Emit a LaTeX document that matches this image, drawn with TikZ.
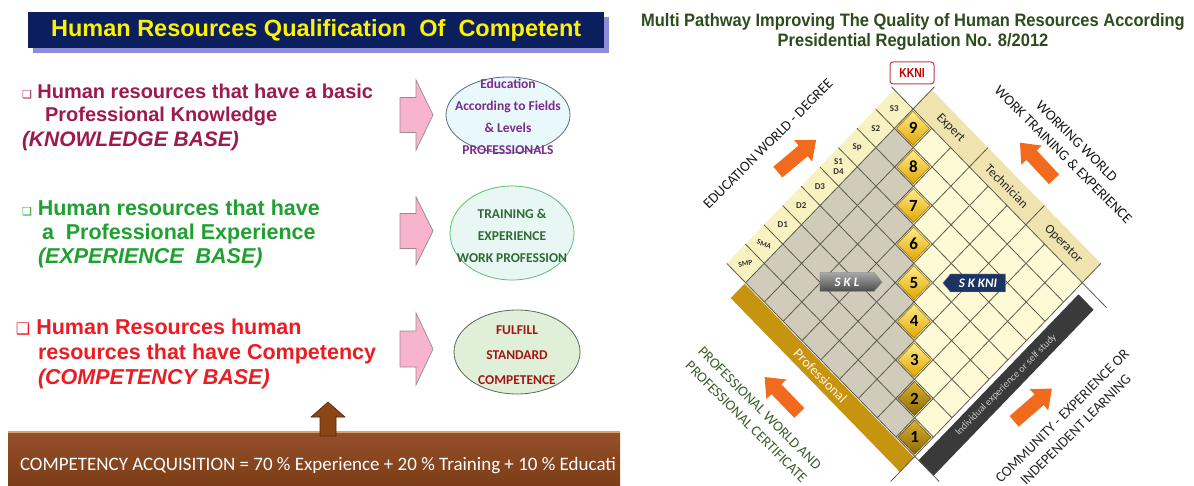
\documentclass[tikz,border=0pt]{standalone}
\usepackage{fontspec}
\usepackage{graphicx}
\setmainfont{Liberation Sans}
\newfontfamily\calfont{Carlito}
\newfontfamily\djfont{DejaVu Sans}
\usetikzlibrary{shapes.geometric,shapes.symbols,decorations.pathmorphing,calc}
\definecolor{navyT}{HTML}{0B1F5E}
\definecolor{shadowT}{HTML}{8C8CD8}
\definecolor{maroonT}{HTML}{9C1A4E}
\definecolor{greenT}{HTML}{1FA030}
\definecolor{redT}{HTML}{EC1C24}
\definecolor{pinkF}{HTML}{F8B4CC}
\definecolor{pinkD}{HTML}{9A8A90}
\definecolor{eAfill}{HTML}{E9F8FB}
\definecolor{eAdraw}{HTML}{5A6A7A}
\definecolor{eBfill}{HTML}{E8F7F3}
\definecolor{eBdraw}{HTML}{5DBF6A}
\definecolor{eCfill}{HTML}{DFEFD8}
\definecolor{eCdraw}{HTML}{5A6A5A}
\definecolor{eAtext}{HTML}{7A2C8E}
\definecolor{eBtext}{HTML}{2F6A33}
\definecolor{eCtext}{HTML}{A31616}
\definecolor{barTop}{HTML}{94502A}
\definecolor{barBot}{HTML}{7A3C16}
\definecolor{barLine}{HTML}{D6A46C}
\definecolor{upArr}{HTML}{8B4516}
\definecolor{rtitle}{HTML}{2E4B1C}
\definecolor{kkniD}{HTML}{C23A4C}
\definecolor{kkniT}{HTML}{B80000}
\definecolor{eduband}{HTML}{F8F2C0}
\definecolor{workband}{HTML}{EFE4B0}
\definecolor{profband}{HTML}{C6940E}
\definecolor{darkband}{HTML}{3A3A3A}
\definecolor{grayC}{HTML}{D1CBBC}
\definecolor{creamC}{HTML}{FFFAD6}
\definecolor{gridL}{HTML}{5C5A4C}
\definecolor{goldTop}{HTML}{FFEB8A}
\definecolor{goldBot}{HTML}{E0A600}
\definecolor{goldTopB}{HTML}{D9B030}
\definecolor{goldBotB}{HTML}{8C6A0A}
\definecolor{orangeA}{HTML}{F26A1E}
\definecolor{sklTop}{HTML}{A8A8A8}
\definecolor{sklBot}{HTML}{4C4C4C}
\definecolor{skkniC}{HTML}{1C3462}
\definecolor{profText}{HTML}{3B5E2B}
\newlength\wA
\newlength\wB
\newcommand\fA{\bfseries\fontsize{20}{24}\selectfont}
\newcommand\fAi{\bfseries\itshape\fontsize{21}{24}\selectfont}
\newcommand\fB{\bfseries\fontsize{21.5}{24}\selectfont}
\newcommand\bulS{{\djfont\fontsize{11}{12}\selectfont ❑}}
\newcommand\bulL{{\djfont\bfseries\fontsize{16}{18}\selectfont ❑}}
\newcommand\wavyunder[3]{\settowidth\wA{#1}\settowidth\wB{#2}\draw[wavy] ($(#3.base west)+(\wA,-3.5pt)$) -- ++(\wB,0pt);}
% block arrow: name, cx, cy, angle, length, head width, shaft width, head length, style
\newcommand\blockarrow[9]{\begin{scope}[shift={(#2,#3)}, rotate=#4]\coordinate (#1) at (0,0);
 \path[#9] (-#5/2,-#7/2) -- (#5/2-#8,-#7/2) -- (#5/2-#8,-#6/2) -- (#5/2,0) -- (#5/2-#8,#6/2) -- (#5/2-#8,#7/2) -- (-#5/2,#7/2) -- cycle;\end{scope}}
\begin{document}
\begin{tikzpicture}[x=1pt,y=-1pt,
 txt/.style={anchor=base west, inner sep=0pt, outer sep=0pt},
 parrow/.style={draw=pinkD, fill=pinkF, line width=0.7pt, line join=miter},
 oarrow/.style={fill=orangeA},
 ell/.style={ellipse, line width=0.8pt, inner sep=0pt},
 etext/.style={align=center, font=\calfont\bfseries\fontsize{13.5}{22}\selectfont, inner sep=0pt},
 wavy/.style={red, line width=0.5pt, decorate, decoration={snake, amplitude=0.8pt, segment length=3pt}},
 gl/.style={draw=gridL, line width=0.8pt},
 side/.style={align=center, font=\calfont\fontsize{14.5}{19}\selectfont, inner sep=0pt},
 edul/.style={font=\calfont\bfseries\fontsize{9}{11}\selectfont, text=black!80, inner sep=0pt, align=center},
 workl/.style={font=\calfont\fontsize{13}{14}\selectfont, text=black!85, rotate=-45, inner sep=0pt},
 numl/.style={font=\calfont\bfseries\fontsize{17}{18}\selectfont, inner sep=0pt},
 goldcell/.style={top color=goldTop, bottom color=goldBot, draw=goldBot!70!black, line width=0.5pt},
 goldcellB/.style={top color=goldTopB, bottom color=goldBotB, draw=goldBotB!70!black, line width=0.5pt},
]
\useasboundingbox (0,0) rectangle (1194,486);
\fill[white] (0,0) rectangle (1194,486);

% ---------- left panel ----------
\fill[shadowT] (33,17) rectangle (609,53);
\node[fill=navyT, minimum width=576pt, minimum height=36pt, anchor=north west, inner sep=0pt] (tbar) at (28,12) {};
\node[text=yellow, font=\bfseries\fontsize{23.5}{28}\selectfont, inner sep=0pt] (ttext) at (tbar.center) {Human Resources Qualification\ \ Of\ \ Competent};

\node[txt, text=maroonT, font=\fA] (k1) at (22,99) {\bulS\ Human resources that have a basic};
\node[txt, text=maroonT, font=\fA] (k2) at (45,122) {Professional Knowledge};
\node[txt, text=maroonT, font=\fAi] (k3) at (22,147) {(KNOWLEDGE BASE)};
\wavyunder{\fA\bulS\ Human }{\fA resources}{k1}
\wavyunder{\fA\bulS\ Human resources that }{\fA have}{k1}
\wavyunder{\fA\bulS\ Human resources that have a }{\fA basic}{k1}

\node[txt, text=greenT, font=\fB] (x1) at (22,215.5) {\bulS\ Human resources that have};
\node[txt, text=greenT, font=\fB] (x2) at (42,239.5) {a\ \ Professional Experience};
\node[txt, text=greenT, font=\fB\itshape] (x3) at (38,263.5) {(EXPERIENCE\ \ BASE)};
\wavyunder{\fB\bulS\ }{\fB Human}{x1}

\node[txt, text=redT, font=\fB] (c1) at (16,334.5) {\bulL\ Human Resources human};
\node[txt, text=redT, font=\fB] (c2) at (38,359.5) {resources that have Competency};
\node[txt, text=redT, font=\fB\itshape] (c3) at (38,384.5) {(COMPETENCY BASE)};

\blockarrow{pa1}{416.5}{115}{0}{33}{70}{35}{17}{parrow}
\blockarrow{pa2}{416.5}{231}{0}{33}{68}{35}{17}{parrow}
\blockarrow{pa3}{416.5}{349}{0}{33}{72}{36}{17}{parrow}

\node[ell, draw=eAdraw, fill=eAfill, minimum width=124pt, minimum height=76pt] (e1) at (508,115) {};
\node[etext, text=eAtext] (e1t) at (508,117) {Education\\According to Fields\\\& Levels\\PROFESSIONALS};
\node[ell, draw=eBdraw, fill=eBfill, minimum width=124pt, minimum height=94pt] (e2) at (512,233) {};
\node[etext, text=eBtext] (e2t) at (512,236) {TRAINING \&\\EXPERIENCE\\WORK PROFESSION};
\node[ell, draw=eCdraw, fill=eCfill, minimum width=126pt, minimum height=84pt] (e3) at (517,352) {};
\node[etext, text=eCtext, font=\calfont\bfseries\fontsize{13.5}{25}\selectfont] (e3t) at (517,355) {FULFILL\\STANDARD\\COMPETENCE};

\begin{scope}
\clip (8,432) rectangle (620,486);
\node[anchor=north west, minimum width=612pt, minimum height=56pt, inner sep=0pt, top color=barTop, bottom color=barBot] (bar) at (8,432) {};
\node[txt, text=white, font=\calfont\fontsize{19}{22}\selectfont] (acq) at (20,470) {COMPETENCY ACQUISITION = 70 \% Experience + 20 \% Training + 10 \% Educati};
\end{scope}
\draw[barLine, line width=1.5pt] (bar.north west) -- (bar.north east);
\blockarrow{up}{328}{419}{90}{34}{34}{16}{15}{fill=upArr, draw=upArr!60!black, line width=0.6pt}

% ---------- right panel ----------
\node[text=rtitle, inner sep=0pt, font=\bfseries\fontsize{18}{20}\selectfont] (rt1) at (913,22) {\scalebox{0.915}[1]{Multi Pathway Improving The Quality of Human Resources According}};
\node[text=rtitle, inner sep=0pt, font=\bfseries\fontsize{18}{20}\selectfont] (rt2) at (913,42) {\scalebox{0.915}[1]{Presidential Regulation No. 8/2012}};

\node[draw=kkniD, fill=white, rounded corners=3pt, line width=1pt, minimum width=44pt, minimum height=22pt, inner sep=0pt, text=kkniT, font=\bfseries\fontsize{13}{14}\selectfont] (kkni) at (912,73) {\scalebox{0.8}[1]{KKNI}};

\begin{scope}[shift={(913pt,-109pt)}, x={(-18.6pt,-19.3pt)}, y={(18.8pt,-19.3pt)}]
 \fill[eduband] (0,0) -- (9,0) -- (9,-1) -- (0,-1) -- cycle;
 \fill[workband] (0,0) -- (0,9) -- (-1,9) -- (-1,0) -- cycle;
 \fill[profband] (9.05,0) -- (9.05,9) -- (9.8,9) -- (9.8,0) -- cycle;
 \fill[darkband] (0.4,9.2) -- (9,9.2) -- (9,10) -- (0.4,10) -- cycle;
 \fill[grayC] (0,0) -- (9,0) -- (9,9) -- cycle;
 \fill[creamC] (0,0) -- (0,9) -- (9,9) -- cycle;
 \foreach \k in {1,...,8} \draw[gl] (\k,-1) -- (\k,9);
 \draw[gl] (0,-1.15) -- (0,10.3);
 \draw[gl] (9,-1) -- (9,10.3);
 \foreach \k in {1,2,4,5,7,8} \draw[gl] (0,\k) -- (9,\k);
 \draw[gl] (-1.15,0) -- (9,0);
 \draw[gl] (-1,3) -- (9,3);
 \draw[gl] (-1,6) -- (9,6);
 \draw[gl] (-1,9) -- (10.3,9);
 \foreach \i in {0,...,6} {
   \pgfmathtruncatemacro\n{9-\i}
   \draw[goldcell] (\i+0.06,\i+0.06) -- (\i+0.94,\i+0.06) -- (\i+0.94,\i+0.94) -- (\i+0.06,\i+0.94) -- cycle;
   \node[numl] (n\n) at (\i+0.5,\i+0.5) {\n};
 }
 \foreach \i in {7,8} {
   \pgfmathtruncatemacro\n{9-\i}
   \draw[goldcellB] (\i+0.06,\i+0.06) -- (\i+0.94,\i+0.06) -- (\i+0.94,\i+0.94) -- (\i+0.06,\i+0.94) -- cycle;
   \node[numl] (n\n) at (\i+0.5,\i+0.5) {\n};
 }
 \node[edul] (lS3) at (0.5,-0.5) {S3};
 \node[edul] (lS2) at (1.5,-0.5) {S2};
 \node[edul] (lSp) at (2.5,-0.5) {Sp};
 \node[edul, font=\calfont\bfseries\fontsize{9}{10}\selectfont] (lS1) at (3.5,-0.5) {S1\\D4};
 \node[edul] (lD3) at (4.5,-0.5) {D3};
 \node[edul] (lD2) at (5.5,-0.5) {D2};
 \node[edul] (lD1) at (6.5,-0.5) {D1};
 \node[edul, font=\calfont\bfseries\fontsize{7.5}{9}\selectfont, rotate=-20] (lSMA) at (7.5,-0.5) {SMA};
 \node[edul, font=\calfont\bfseries\fontsize{7.5}{9}\selectfont, rotate=10] (lSMP) at (8.5,-0.5) {SMP};
 \node[workl] (wEx) at (-0.5,1.5) {Expert};
 \node[workl] (wTe) at (-0.5,4.5) {Technician};
 \node[workl] (wOp) at (-0.5,7.5) {Operator};
 \node[font=\calfont\fontsize{14}{15}\selectfont, text=white!92!orange, rotate=-45, inner sep=0pt] (prof) at (9.425,4.4) {Professional};
 \node[font=\calfont\fontsize{10}{11}\selectfont, text=black!22, rotate=45, inner sep=0pt] (indiv) at (4.7,9.6) {Individual experience or self study};
\end{scope}

\node[signal, signal to=east, signal pointer angle=100, top color=sklTop, bottom color=sklBot, draw=black!50, minimum width=62pt, minimum height=19pt, inner sep=0pt, text=white, font=\calfont\bfseries\itshape\fontsize{13}{14}\selectfont] (skl) at (847,282) {S K L};
\node[signal, signal to=west, signal pointer angle=100, fill=skkniC, draw=skkniC!40!white, minimum width=63pt, minimum height=18pt, inner sep=0pt, text=white, font=\calfont\bfseries\itshape\fontsize{13}{14}\selectfont] (skkni) at (978,283) {S K KNI};

\blockarrow{oa1}{797}{156}{40}{50}{28}{14}{17}{oarrow}
\blockarrow{oa2}{1037}{161}{133}{50}{28}{14}{17}{oarrow}
\blockarrow{oa3}{782}{395}{134}{50}{28}{14}{17}{oarrow}
\blockarrow{oa4}{1033}{405}{41}{50}{28}{14}{17}{oarrow}

\node[side, rotate=45, text=black!90] (eduW) at (768,144) {EDUCATION WORLD - DEGREE};
\node[side, rotate=-45, text=black!90] (workW) at (1070,148) {WORKING WORLD\\WORK TRAINING \& EXPERIENCE};
\node[side, rotate=-45, text=profText] (profW) at (753,415) {PROFESSIONAL WORLD AND\\PROFESSIONAL CERTIFICATE};
\node[side, rotate=45, text=black!85] (commW) at (1069,423) {COMMUNITY - EXPERIENCE OR\\INDEPENDENT LEARNING};
\end{tikzpicture}
\end{document}
